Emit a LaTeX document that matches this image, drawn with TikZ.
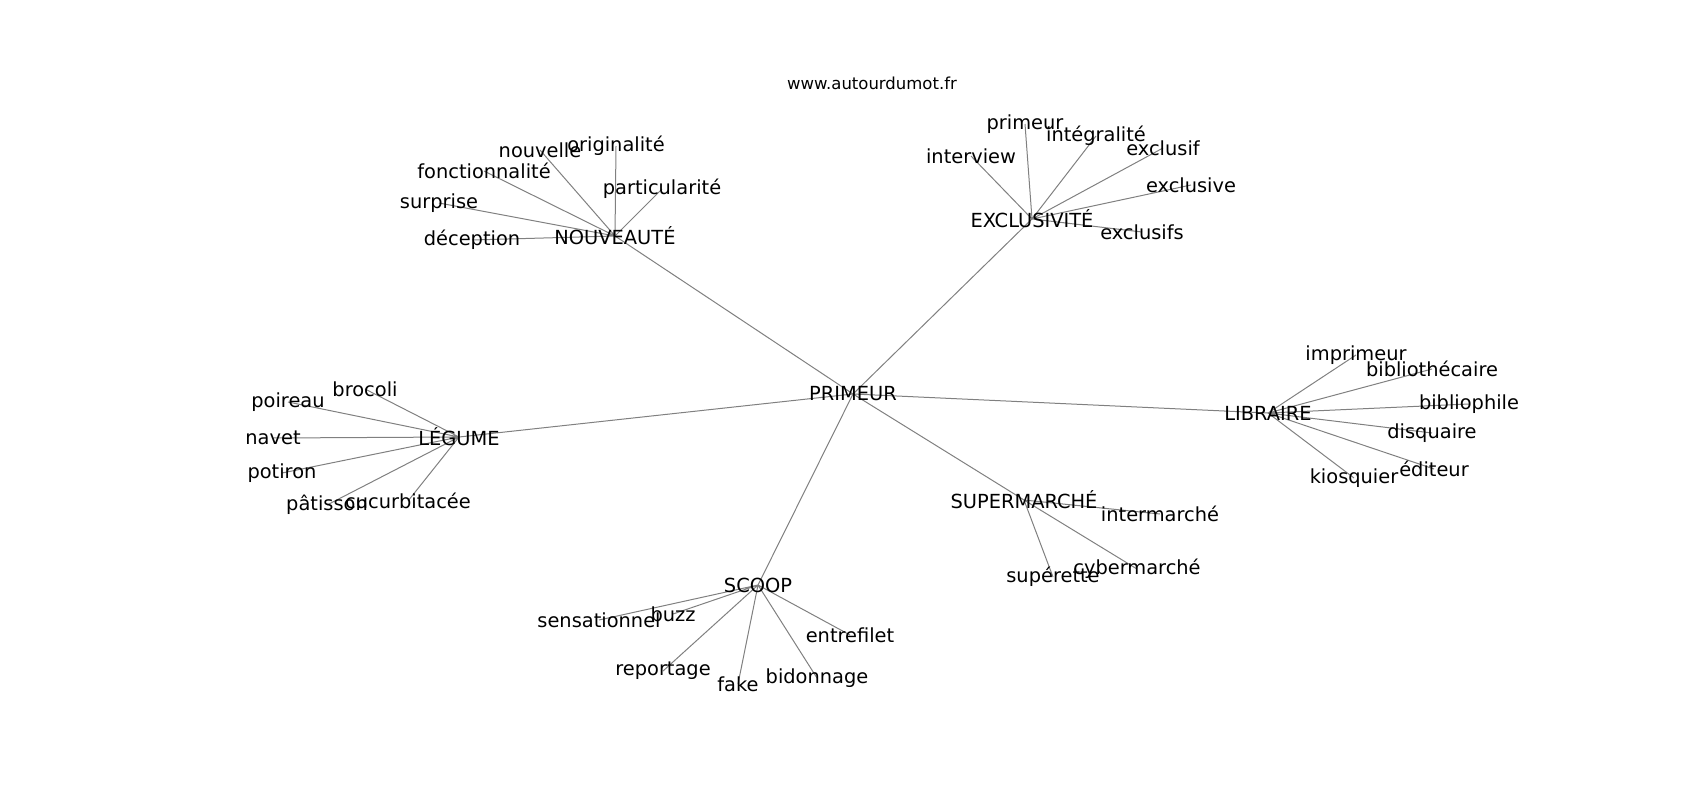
\documentclass[tikz,border=0pt]{standalone}
\usepackage{fontspec}
\setmainfont{DejaVu Sans}
\usetikzlibrary{backgrounds}

\begin{document}
\begin{tikzpicture}[x=1pt, y=-1pt,
    word/.style={inner sep=0pt, font=\fontsize{19.4}{20}\selectfont},
    edge/.style={draw=black!50, line width=1pt}]
    \useasboundingbox (0,0) rectangle (1700,800);
    \node[inner sep=0pt, font=\fontsize{16.5}{18}\selectfont] (title) at (872, 83) {www.autourdumot.fr};

    \node[word] (primeur) at (853, 394) {PRIMEUR};

    \node[word] (nouveaute) at (615, 236) {NOUVEAUTÉ};
    \node[word] (nouvelle) at (540, 150) {nouvelle};
    \node[word] (originalite) at (616, 146) {originalité};
    \node[word] (fonctionnalite) at (484, 171) {fonctionnalité};
    \node[word] (particularite) at (662, 189) {particularité};
    \node[word] (surprise) at (439, 203) {surprise};
    \node[word] (deception) at (472, 240) {déception};

    \node[word] (exclusivite) at (1032, 219) {EXCLUSIVITÉ};
    \node[word] (primeurmot) at (1025, 124) {primeur};
    \node[word] (integralite) at (1096, 136) {intégralité};
    \node[word] (interview) at (971, 156) {interview};
    \node[word] (exclusif) at (1163, 148) {exclusif};
    \node[word] (exclusive) at (1191, 185) {exclusive};
    \node[word] (exclusifs) at (1142, 232) {exclusifs};

    \node[word] (legume) at (459, 437) {LÉGUME};
    \node[word] (brocoli) at (365, 389) {brocoli};
    \node[word] (poireau) at (288, 402) {poireau};
    \node[word] (navet) at (273, 438) {navet};
    \node[word] (potiron) at (282, 473) {potiron};
    \node[word] (patisson) at (327, 505) {pâtisson};
    \node[word] (cucurbitacee) at (408, 501) {cucurbitacée};

    \node[word] (libraire) at (1268, 413) {LIBRAIRE};
    \node[word] (imprimeur) at (1356, 355) {imprimeur};
    \node[word] (bibliothecaire) at (1432, 369) {bibliothécaire};
    \node[word] (bibliophile) at (1469, 404) {bibliophile};
    \node[word] (disquaire) at (1432, 433) {disquaire};
    \node[word] (editeur) at (1434, 469) {éditeur};
    \node[word] (kiosquier) at (1354, 478) {kiosquier};

    \node[word] (scoop) at (758, 585) {SCOOP};
    \node[word] (sensationnel) at (599, 620) {sensationnel};
    \node[word] (buzz) at (673, 614) {buzz};
    \node[word] (entrefilet) at (850, 635) {entrefilet};
    \node[word] (reportage) at (663, 671) {reportage};
    \node[word] (fake) at (738, 684) {fake};
    \node[word] (bidonnage) at (817, 678) {bidonnage};

    \node[word] (supermarche) at (1024, 500) {SUPERMARCHÉ};
    \node[word] (intermarche) at (1160, 514) {intermarché};
    \node[word] (cybermarche) at (1137, 569) {cybermarché};
    \node[word] (superette) at (1053, 577) {supérette};

    % edges under the words
    \begin{scope}[on background layer]
    \draw[edge] (primeur.center) -- (nouveaute.center)
        (primeur.center) -- (exclusivite.center)
        (primeur.center) -- (legume.center)
        (primeur.center) -- (libraire.center)
        (primeur.center) -- (scoop.center)
        (primeur.center) -- (supermarche.center);

    \draw[edge] (nouveaute.center) -- (nouvelle.center)
        (nouveaute.center) -- (originalite.center)
        (nouveaute.center) -- (fonctionnalite.center)
        (nouveaute.center) -- (particularite.center)
        (nouveaute.center) -- (surprise.center)
        (nouveaute.center) -- (deception.center);

    \draw[edge] (exclusivite.center) -- (primeurmot.center)
        (exclusivite.center) -- (integralite.center)
        (exclusivite.center) -- (interview.center)
        (exclusivite.center) -- (exclusif.center)
        (exclusivite.center) -- (exclusive.center)
        (exclusivite.center) -- (exclusifs.center);

    \draw[edge] (legume.center) -- (brocoli.center)
        (legume.center) -- (poireau.center)
        (legume.center) -- (navet.center)
        (legume.center) -- (potiron.center)
        (legume.center) -- (patisson.center)
        (legume.center) -- (cucurbitacee.center);

    \draw[edge] (libraire.center) -- (imprimeur.center)
        (libraire.center) -- (bibliothecaire.center)
        (libraire.center) -- (bibliophile.center)
        (libraire.center) -- (disquaire.center)
        (libraire.center) -- (editeur.center)
        (libraire.center) -- (kiosquier.center);

    \draw[edge] (scoop.center) -- (sensationnel.center)
        (scoop.center) -- (buzz.center)
        (scoop.center) -- (entrefilet.center)
        (scoop.center) -- (reportage.center)
        (scoop.center) -- (fake.center)
        (scoop.center) -- (bidonnage.center);

    \draw[edge] (supermarche.center) -- (intermarche.center)
        (supermarche.center) -- (cybermarche.center)
        (supermarche.center) -- (superette.center);
    \end{scope}
\end{tikzpicture}
\end{document}
